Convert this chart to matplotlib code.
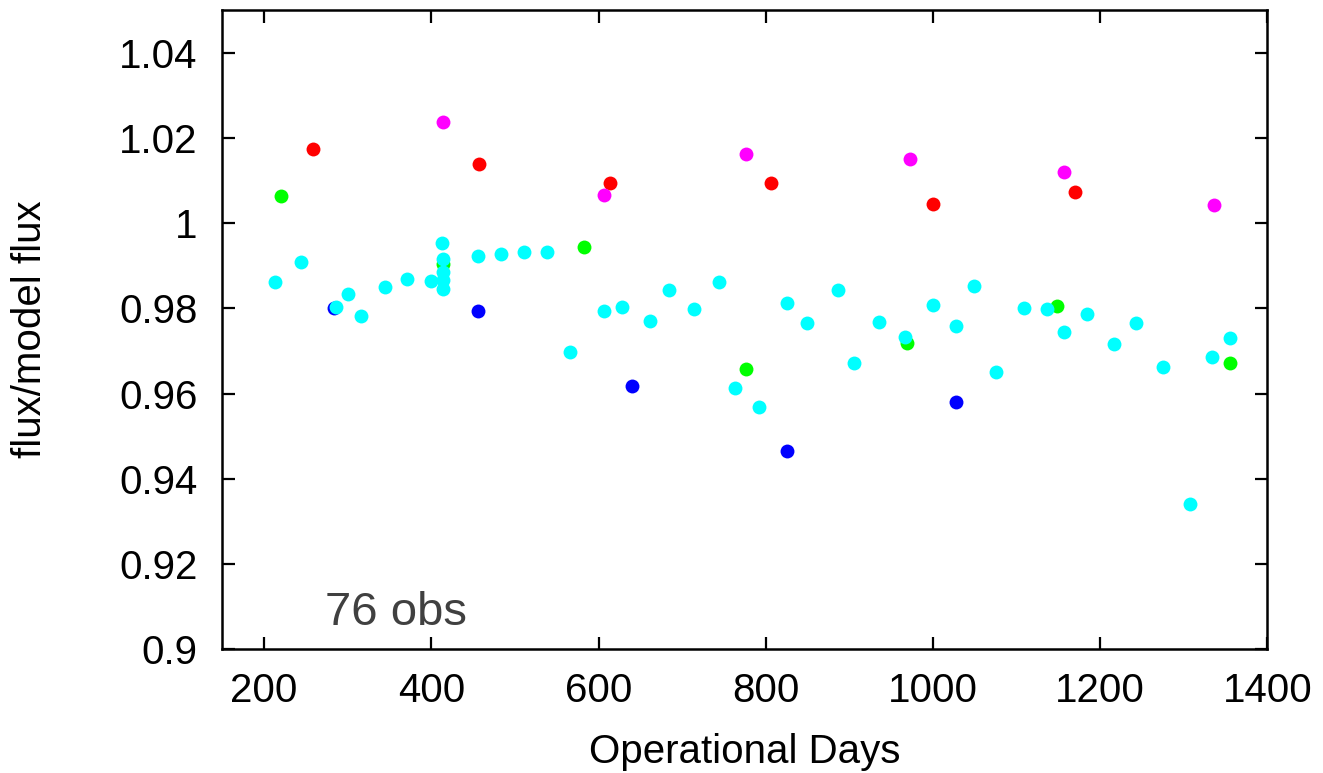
import matplotlib.pyplot as plt

plt.rcParams["font.family"] = ["Liberation Sans", "DejaVu Sans"]

# cyan observations
cyan_days = [213, 244, 285.8, 299.8, 316, 344.7, 371, 399.7, 412.8, 414, 414, 414, 414,
             455.8, 483, 510.8, 538.7, 565.5, 607.1, 627.8, 662, 684, 714.6, 744.1,
             763.6, 791.4, 825.7, 848.8, 887, 906.1, 936, 966.7, 999.7, 1027.9, 1048.7,
             1075.3, 1108.8, 1136.6, 1156.6, 1184, 1216, 1243.4, 1274.8, 1307.9,
             1333.7, 1354.8]
cyan_ratio = [0.9861, 0.9909, 0.9804, 0.9834, 0.9782, 0.9851, 0.9870, 0.9864, 0.9953,
              0.9916, 0.9886, 0.9866, 0.9845, 0.9922, 0.9927, 0.9933, 0.9933, 0.9698,
              0.9794, 0.9804, 0.9770, 0.9844, 0.9799, 0.9862, 0.9613, 0.9569, 0.9812,
              0.9765, 0.9844, 0.9673, 0.9768, 0.9734, 0.9809, 0.9759, 0.9853, 0.9650,
              0.9802, 0.9798, 0.9744, 0.9787, 0.9717, 0.9766, 0.9663, 0.9340, 0.9687,
              0.9731]

green_days = [219.8, 414, 582.4, 776.7, 968.7, 1147.8, 1355.7]
green_ratio = [1.0063, 0.9903, 0.9943, 0.9657, 0.9719, 0.9805, 0.9673]

blue_days = [283.8, 455.8, 639.7, 825.7, 1027.9]
blue_ratio = [0.9802, 0.9795, 0.9618, 0.9466, 0.9581]

red_days = [258.7, 457, 613.9, 805.8, 999.7, 1169.7]
red_ratio = [1.0173, 1.0139, 1.0095, 1.0095, 1.0044, 1.0073]

magenta_days = [414, 607.1, 776.7, 972.6, 1156.6, 1336.1]
magenta_ratio = [1.0238, 1.0065, 1.0163, 1.0151, 1.0120, 1.0043]

fig = plt.figure(figsize=(13.23, 7.73), dpi=100)
ax = fig.add_axes([0.168, 0.160, 0.790, 0.827])

ms = 100
ax.scatter(blue_days, blue_ratio, s=ms, color="#0000ff", linewidths=0)
ax.scatter(green_days, green_ratio, s=ms, color="#00ff00", linewidths=0)
ax.scatter(cyan_days, cyan_ratio, s=ms, color="#00ffff", linewidths=0)
ax.scatter(red_days, red_ratio, s=ms, color="#ff0000", linewidths=0)
ax.scatter(magenta_days, magenta_ratio, s=ms, color="#ff00ff", linewidths=0)

ax.set_xlim(150, 1400)
ax.set_ylim(0.9, 1.05)
ax.set_xticks([200, 400, 600, 800, 1000, 1200, 1400])
ax.set_yticks([0.9, 0.92, 0.94, 0.96, 0.98, 1.0, 1.02, 1.04])
ax.set_yticklabels(["0.9", "0.92", "0.94", "0.96", "0.98", "1", "1.02", "1.04"])

for side in ax.spines.values():
    side.set_linewidth(1.8)
ax.tick_params(direction="in", length=9, width=1.6, top=True, right=True,
               labelsize=29)
ax.tick_params(axis="y", pad=18)
ax.tick_params(axis="x", pad=16)

ax.set_xlabel("Operational Days", fontsize=29, labelpad=17)
ax.set_ylabel("flux/model flux", fontsize=29, labelpad=50)

ax.text(273, 0.9057, "76 obs", fontsize=34, color="#404040",
        ha="left", va="baseline")

fig.savefig("out.png", dpi=100)
